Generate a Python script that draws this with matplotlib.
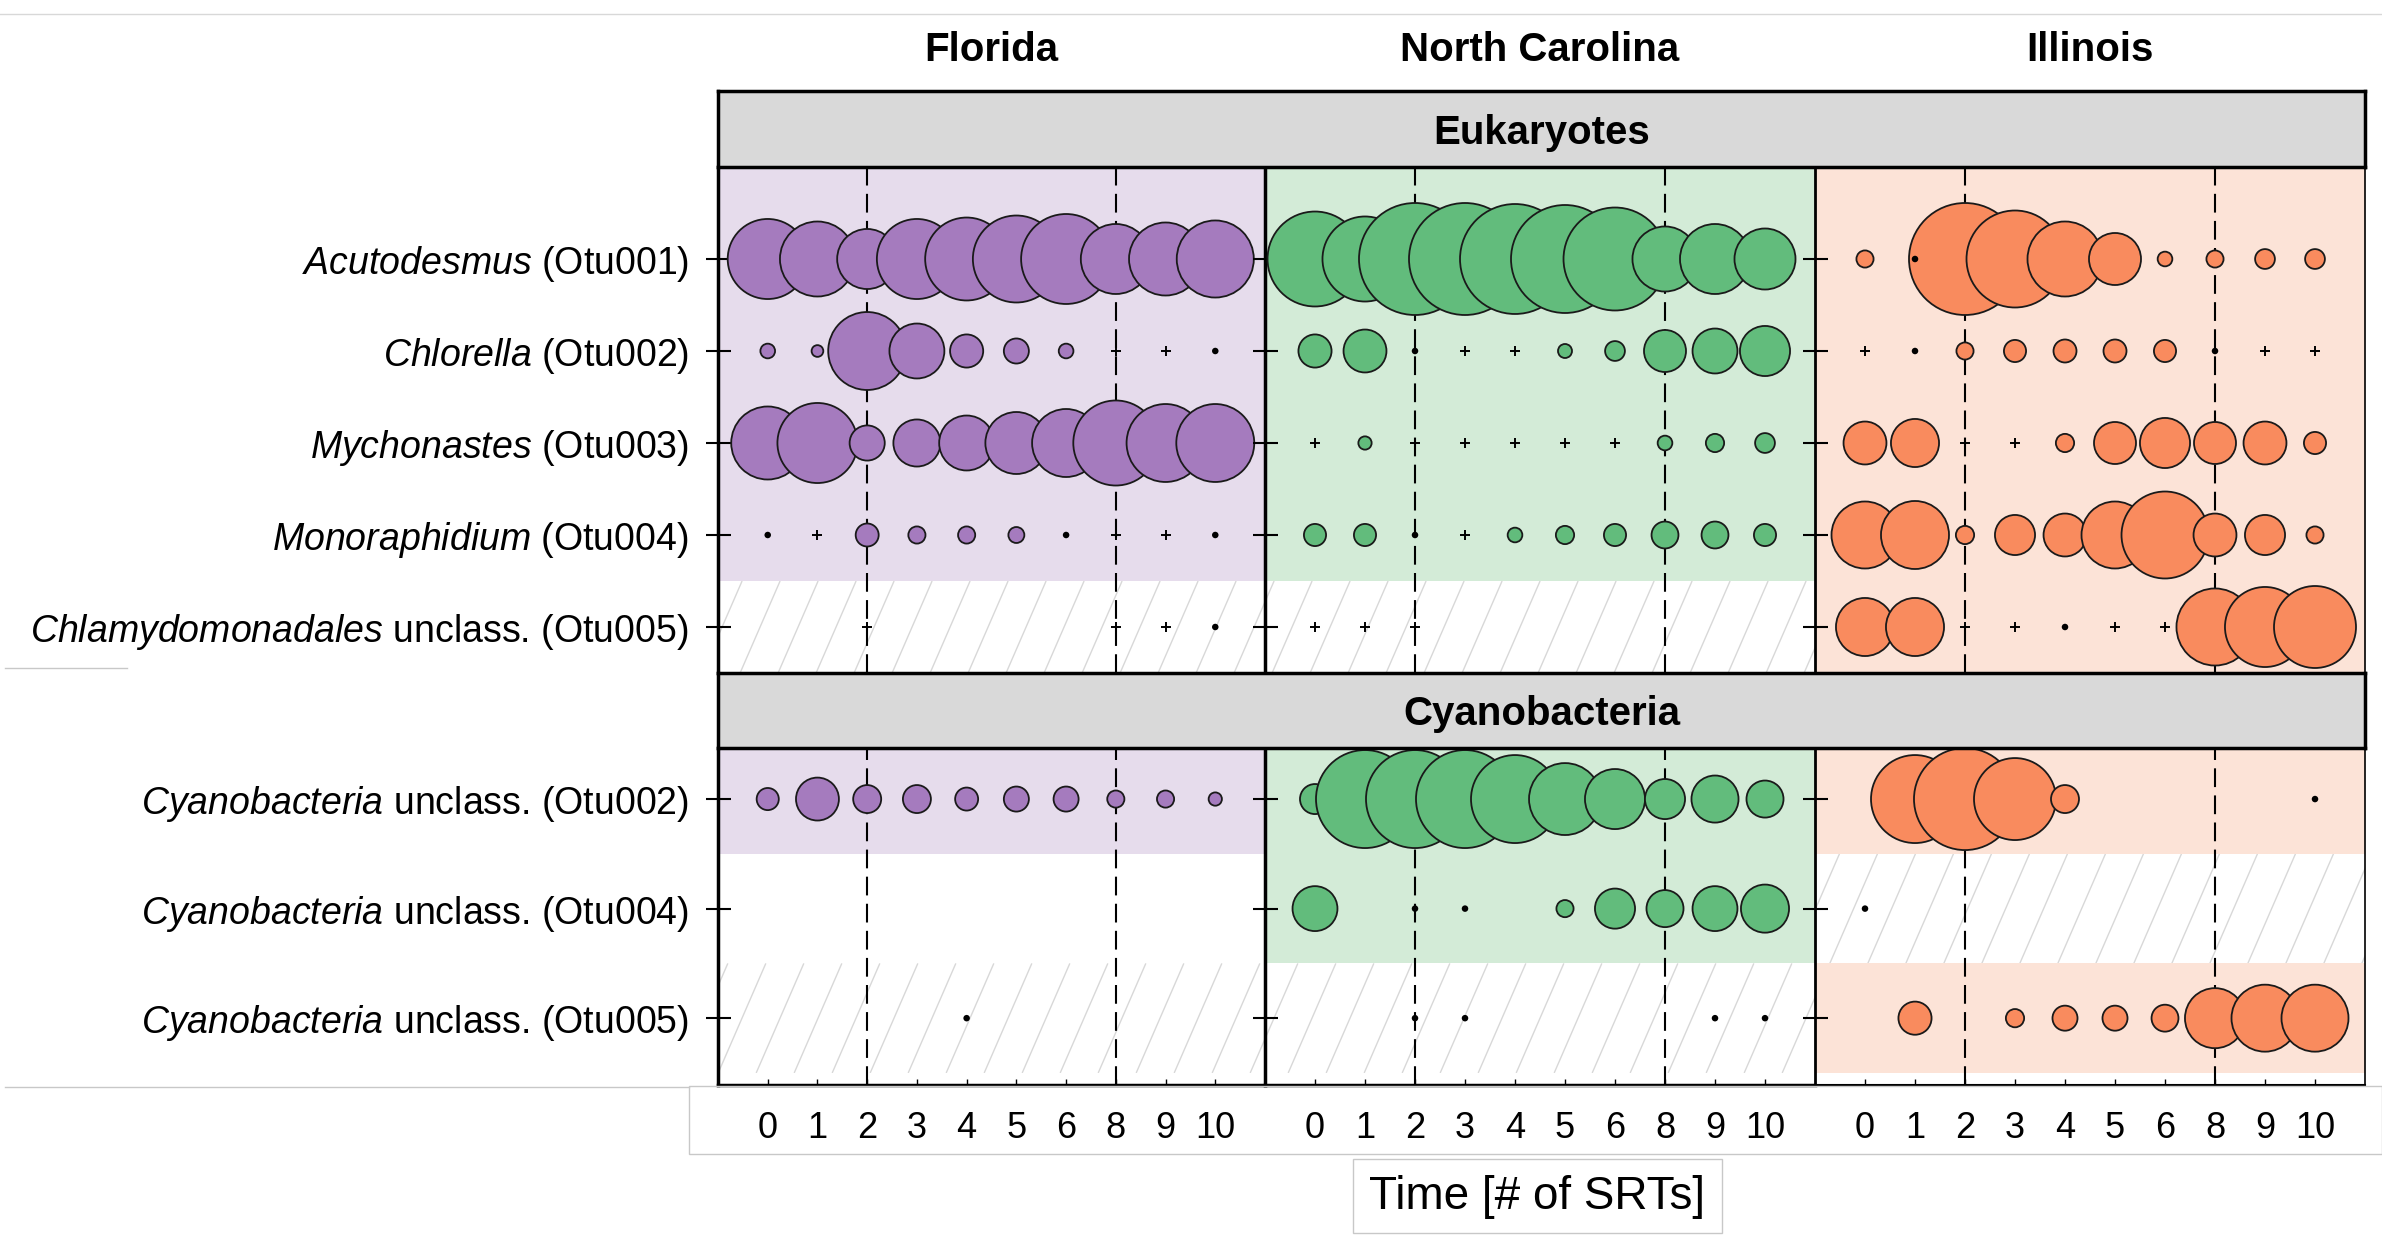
import numpy as np
import matplotlib
matplotlib.use("Agg")
import matplotlib.pyplot as plt
from matplotlib.patches import Rectangle
from matplotlib.lines import Line2D
from matplotlib.collections import LineCollection
from matplotlib.transforms import IdentityTransform, Bbox

plt.rcParams["font.family"] = ["Liberation Sans", "DejaVu Sans"]
plt.rcParams["mathtext.fontset"] = "custom"
plt.rcParams["mathtext.it"] = "Liberation Sans:italic"
plt.rcParams["mathtext.rm"] = "Liberation Sans"

nan = np.nan

# =========================
# Data (relative abundance, %; <0.05 = trace, <0.3 = very low)
# =========================
times = ["0", "1", "2", "3", "4", "5", "6", "8", "9", "10"]
sites = ["Florida", "North Carolina", "Illinois"]

euk_labels = [
    r"$\it{Acutodesmus}$ (Otu001)",
    r"$\it{Chlorella}$ (Otu002)",
    r"$\it{Mychonastes}$ (Otu003)",
    r"$\it{Monoraphidium}$ (Otu004)",
    r"$\it{Chlamydomonadales}$ unclass. (Otu005)",
]
cyano_labels = [
    r"$\it{Cyanobacteria}$ unclass. (Otu002)",
    r"$\it{Cyanobacteria}$ unclass. (Otu004)",
    r"$\it{Cyanobacteria}$ unclass. (Otu005)",
]

euk_florida = [
    [32.7, 28.7, 18.4, 32.7, 35.1, 38.6, 41.3, 25.0, 27.2, 30.3],
    [1.1, 0.7, 31.0, 15.4, 5.6, 3.2, 1.1, 0.02, 0.02, 0.15],
    [27.2, 32.7, 6.3, 11.3, 15.4, 19.6, 23.6, 36.9, 31.0, 31.0],
    [0.15, 0.02, 2.7, 1.5, 1.5, 1.3, 0.15, 0.02, 0.02, 0.15],
    [nan, nan, 0.02, nan, nan, nan, nan, 0.02, 0.02, 0.15],
]
euk_nc = [
    [46.0, 36.9, 64.0, 64.0, 61.7, 59.5, 54.1, 21.6, 25.0, 19.0],
    [5.6, 9.4, 0.15, 0.02, 0.02, 1.0, 2.0, 9.0, 10.3, 12.8],
    [0.02, 0.9, 0.02, 0.02, 0.02, 0.02, 0.02, 1.1, 1.7, 2.0],
    [2.5, 2.5, 0.15, 0.02, 1.1, 1.7, 2.5, 3.7, 3.7, 2.5],
    [0.02, 0.02, 0.02, nan, nan, nan, nan, nan, nan, nan],
]
euk_illinois = [
    [1.5, 0.15, 64.0, 48.0, 28.7, 13.8, 1.1, 1.5, 2.0, 2.0],
    [0.02, 0.15, 1.5, 2.5, 2.7, 2.7, 2.5, 0.15, 0.02, 0.02],
    [9.4, 11.8, 0.02, 0.02, 1.7, 9.0, 12.8, 9.0, 9.4, 2.5],
    [22.9, 23.6, 1.7, 8.2, 9.4, 22.9, 38.6, 9.4, 8.2, 1.5],
    [17.2, 17.2, 0.02, 0.02, 0.15, 0.02, 0.02, 30.3, 32.7, 34.3],
]

cyano_florida = [
    [2.5, 9.4, 4.0, 4.0, 2.7, 3.2, 3.2, 1.5, 1.5, 0.9],
    [nan] * 10,
    [nan, nan, nan, nan, 0.15, nan, nan, nan, nan, nan],
]
cyano_nc = [
    [4.6, 49.0, 49.0, 49.0, 39.5, 26.4, 18.4, 8.2, 11.3, 7.0],
    [10.3, nan, 0.15, 0.15, nan, 1.5, 8.2, 7.0, 10.3, 11.8],
    [nan, nan, 0.15, 0.15, nan, nan, nan, nan, 0.12, 0.12],
]
cyano_illinois = [
    [nan, 39.5, 53.1, 34.3, 4.0, nan, nan, nan, nan, 0.15],
    [0.15, nan, nan, nan, nan, nan, nan, nan, nan, nan],
    [nan, 5.6, nan, 1.7, 3.2, 3.2, 3.7, 18.4, 22.9, 22.9],
]

# row background: c = coloured, h = hatched, w = white
euk_bg = ["cccch", "cccch", "ccccc"]
cyano_bg = ["cwh", "cch", "chc"]

# =========================
# Styling
# =========================
W, H = 2382, 1239
colors = ["#A57BBE", "#62BC7C", "#F98B5E"]
lights = ["#E6DCEC", "#D3EBD7", "#FCE3D7"]
col_x = [(718, 1265), (1265, 1815), (1815, 2365)]
euk_y = (167, 673)
cyano_y = (748, 1085)
euk_ylim = (4.5, -1.0)
cyano_ylim = (2.61, -0.466)


def frect(x0, y0, x1, y1):
    return [x0 / W, 1 - y1 / H, (x1 - x0) / W, (y1 - y0) / H]


def hatch_rect(ax, ylo, yhi):
    p = ax.transData.transform([(-1, ylo), (10, yhi)])
    X0, X1 = sorted(p[:, 0])
    Y0, Y1 = sorted(p[:, 1])
    r = 50 / 115
    segs = []
    for b in np.arange(np.floor((X0 - Y1 * r) / 38) * 38 - 38, X1 - Y0 * r + 38, 38):
        segs.append([(b + Y0 * r, Y0), (b + Y1 * r, Y1)])
    lc = LineCollection(segs, colors="#D8D8D8", linewidths=1.0,
                        transform=IdentityTransform(), zorder=0.5)
    ax.add_collection(lc, autolim=False)
    lc.set_clip_box(Bbox([[X0, Y0], [X1, Y1]]))


def draw_panel(ax, values, bg, color, light, ylim):
    ax.set_xlim(-1, 10)
    ax.set_ylim(*ylim)
    ymax = ylim[0]
    for k, b in enumerate(bg):
        lo = k - 0.5 if k > 0 else ylim[1] - 0.5
        hi = min(k + 0.5, ymax)
        if b == "c":
            ax.add_patch(Rectangle((-1.5, lo), 13, hi - lo, facecolor=light,
                                   edgecolor="none", zorder=0))
        elif b == "h":
            hatch_rect(ax, max(lo, ylim[1]), hi)

    for xd in [2, 7]:
        ax.axvline(xd, color="black", lw=1.5, dashes=(9, 4), zorder=1.5)

    cx, cy, cs, px, py, dx, dy = [], [], [], [], [], [], []
    for k, row in enumerate(values):
        for i, v in enumerate(row):
            if np.isnan(v):
                continue
            if v < 0.05:
                px.append(i)
                py.append(k)
            elif v < 0.3:
                dx.append(i)
                dy.append(k)
            else:
                cx.append(i)
                cy.append(k)
                cs.append(101.6 * v)
    ax.scatter(cx, cy, s=cs, c=color, edgecolors="#1a1a1a", linewidths=1.3, zorder=3)
    ax.scatter(px, py, s=45, marker="+", c="black", linewidths=1.4, zorder=4)
    ax.scatter(dx, dy, s=22, c="black", edgecolors="none", zorder=4)


fig = plt.figure(figsize=(W / 100, H / 100), dpi=100)

groups = [
    (euk_y, euk_ylim, [euk_florida, euk_nc, euk_illinois], euk_bg, euk_labels, False),
    (cyano_y, cyano_ylim, [cyano_florida, cyano_nc, cyano_illinois], cyano_bg, cyano_labels, True),
]

for (y0, y1), ylim, data, bgs, labels, bottom in groups:
    for j in range(3):
        x0, x1 = col_x[j]
        ax = fig.add_axes(frect(x0, y0, x1, y1))
        ax.set_facecolor("white")
        draw_panel(ax, data[j], bgs[j], colors[j], lights[j], ylim)

        ax.set_yticks(range(len(labels)))
        ax.tick_params(axis="y", direction="inout", length=18, width=1.5,
                       pad=12, labelsize=27)
        if j == 0:
            ax.set_yticklabels(labels)
        else:
            ax.tick_params(axis="y", labelleft=False)

        if bottom:
            ax.set_xticks(range(len(times)))
            ax.set_xticklabels(times)
            ax.tick_params(axis="x", direction="in", length=4, width=1,
                           pad=19, labelsize=26)
            ax.spines["bottom"].set_linewidth(2.5 if j < 2 else 1.5)
        else:
            ax.set_xticks([])
            ax.spines["bottom"].set_visible(False)

        ax.spines["top"].set_visible(False)
        ax.spines["left"].set_linewidth(2.5 if j < 2 else 2.0)
        if j == 2:
            ax.spines["right"].set_linewidth(1.2)
        else:
            ax.spines["right"].set_visible(False)

# strips
for (sy0, sy1), title in [((91, 167), "Eukaryotes"), ((673, 748), "Cyanobacteria")]:
    sax = fig.add_axes(frect(718, sy0, 2365, sy1))
    sax.set_facecolor("#D9D9D9")
    sax.set_xticks([])
    sax.set_yticks([])
    for sp in sax.spines.values():
        sp.set_linewidth(2.5)
    sax.text(0.5, 0.45, title, ha="center", va="center", fontsize=29,
             fontweight="bold", transform=sax.transAxes)

# column headers
for j, site in enumerate(sites):
    x0, x1 = col_x[j]
    fig.text((x0 + x1) / 2 / W, 1 - 50 / H, site, ha="center", va="center",
             fontsize=29, fontweight="bold")

# x axis title in its own box
fig.text(1537 / W, 1 - 1197 / H, "Time [# of SRTs]", ha="center", va="center",
         fontsize=33)
fig.add_artist(Rectangle((1353 / W, 1 - 1233 / H), 369 / W, 74 / H,
                         transform=fig.transFigure, fill=False,
                         edgecolor="#C8C8C8", lw=1))

# light frame lines of the composite
gray = "#C8C8C8"
fig.add_artist(Rectangle((689 / W, 1 - 1154 / H), (W - 689) / W, 68 / H,
                         transform=fig.transFigure, fill=False,
                         edgecolor=gray, lw=1))
fig.add_artist(Line2D([0, 1], [1 - 14 / H, 1 - 14 / H],
                      transform=fig.transFigure, color="#D8D8D8", lw=1))
fig.add_artist(Line2D([5 / W, 127 / W], [1 - 668 / H, 1 - 668 / H],
                      transform=fig.transFigure, color=gray, lw=1))
fig.add_artist(Line2D([5 / W, 689 / W], [1 - 1087 / H, 1 - 1087 / H],
                      transform=fig.transFigure, color=gray, lw=1))

fig.savefig("out.png", dpi=100)
